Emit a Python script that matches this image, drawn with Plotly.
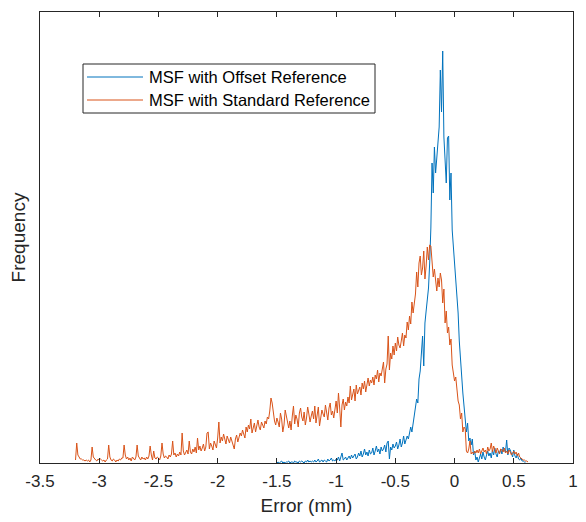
import numpy as np
import plotly.graph_objects as go

# ---- data (frequency in arbitrary counts, bins of 0.01 mm) ----
std_start = -3.20
std_counts = [
    3, 20, 8, 5, 4, 4, 3, 3, 2, 3,
    2, 3, 1, 3, 16, 6, 4, 3, 2, 4,
    3, 4, 3, 2, 3, 1, 3, 4, 18, 6,
    3, 2, 4, 3, 1, 3, 2, 4, 3, 5,
    5, 18, 8, 4, 6, 3, 5, 2, 6, 4,
    3, 6, 18, 7, 5, 3, 6, 4, 5, 3,
    6, 4, 7, 17, 8, 3, 12, 5, 4, 6,
    5, 3, 7, 20, 9, 5, 7, 6, 4, 8,
    6, 9, 22, 8, 10, 6, 9, 7, 11, 8,
    30, 12, 8, 10, 13, 9, 22, 11, 9, 14,
    11, 16, 10, 25, 13, 17, 12, 15, 19, 12,
    16, 30, 31, 14, 20, 17, 13, 22, 18, 15,
    25, 41, 20, 26, 22, 29, 24, 19, 27, 23,
    20, 26, 22, 17, 14, 24, 28, 21, 25, 30,
    27, 33, 29, 25, 36, 31, 38, 34, 44, 30,
    35, 40, 31, 37, 43, 36, 33, 41, 38, 35,
    42, 39, 46, 44, 52, 65, 60, 47, 42, 38,
    45, 41, 36, 50, 44, 31, 38, 53, 46, 40,
    35, 42, 33, 47, 57, 39, 48, 44, 36, 50,
    55, 46, 42, 51, 38, 45, 56, 49, 41, 47,
    52, 44, 57, 40, 48, 56, 37, 45, 53, 49,
    46, 58, 51, 43, 55, 60, 48, 52, 45, 57,
    62, 50, 70, 55, 36, 58, 64, 53, 61, 57,
    66, 60, 77, 63, 70, 74, 62, 78, 69, 73,
    76, 68, 80, 74, 82, 71, 79, 85, 77, 83,
    80, 86, 78, 88, 84, 93, 81, 90, 87, 95,
    101, 80, 94, 99, 127, 93, 110, 104, 117, 108,
    120, 112, 126, 118, 115, 122, 130, 117, 128, 125,
    141, 133, 147, 139, 161, 150, 158, 169, 191, 176,
    200, 207, 188, 195, 212, 184, 197, 216, 203, 218,
    217, 200, 186, 194, 180, 172, 185, 176, 190, 183,
    160, 174, 140, 152, 130, 136, 118, 124, 98, 88,
    82, 86, 74, 62, 58, 44, 50, 31, 36, 34,
    12, 10, 14, 22, 9, 11, 9, 12, 10, 13,
    10, 14, 9, 12, 15, 11, 13, 9, 16, 12,
    14, 20, 11, 17, 13, 10, 15, 12, 9, 14,
    13, 11, 15, 10, 12, 9, 13, 11, 8, 10,
    12, 9, 11, 7, 10, 6, 5, 4, 3, 3,
    2, 2, 1,
]

off_start = -1.50
off_counts = [
    0, 1, 0, 1, 2, 0, 1, 0, 1, 1,
    2, 0, 1, 1, 0, 2, 1, 1, 0, 2,
    1, 2, 1, 0, 2, 1, 3, 1, 2, 1,
    2, 1, 3, 1, 2, 4, 1, 2, 3, 1,
    3, 2, 1, 4, 2, 3, 5, 2, 3, 2,
    4, 3, 6, 2, 5, 10, 3, 4, 6, 3,
    5, 7, 4, 8, 5, 7, 9, 4, 6, 10,
    7, 12, 6, 9, 14, 8, 11, 7, 13, 9,
    10, 15, 8, 12, 17, 11, 14, 9, 16, 12,
    14, 18, 11, 20, 22, 4, 16, 13, 19, 15,
    17, 21, 14, 18, 24, 16, 20, 27, 19, 23,
    27, 24, 30, 36, 31, 40, 48, 57, 64, 60,
    84, 92, 110, 127, 97, 140, 152, 164, 175, 200,
    235, 300, 270, 316, 290, 305, 323, 336, 393, 351,
    412, 326, 303, 280, 325, 327, 263, 290, 233, 216,
    205, 190, 175, 150, 122, 101, 85, 70, 57, 45,
    31, 40, 22, 25, 18, 24, 8, 12, 3, 6,
    1, 5, 9, 4, 11, 6, 3, 8, 12, 7,
    10, 5, 13, 8, 15, 9, 6, 12, 10, 14,
    9, 16, 12, 11, 23, 8, 15, 13, 9, 6,
    13, 7, 5, 9, 4, 3, 5, 2, 2, 1,
    1,
]
bin_width = 0.01

series_names = ["MSF with Offset Reference", "MSF with Standard Reference"]
series_colors = ["#0072BD", "#D95319"]
tick_vals = [-3.5, -3, -2.5, -2, -1.5, -1, -0.5, 0, 0.5, 1]
tick_text = ["-3.5", "-3", "-2.5", "-2", "-1.5", "-1", "-0.5", "0", "0.5", "1"]

x_std = std_start + bin_width * np.arange(len(std_counts))
x_off = off_start + bin_width * np.arange(len(off_counts))

fig = go.Figure()
fig.add_trace(go.Scatter(x=x_off, y=off_counts, mode="lines", name=series_names[0],
                         line=dict(color=series_colors[0], width=1), showlegend=False))
fig.add_trace(go.Scatter(x=x_std, y=std_counts, mode="lines", name=series_names[1],
                         line=dict(color=series_colors[1], width=1), showlegend=False))

# page has an 8px body margin; size the figure to fill the rest of the window
PAGE_OFF = 8
W, H = 586 - PAGE_OFF, 522 - PAGE_OFF
L, R, T, B = 40 - PAGE_OFF, 13, 12 - PAGE_OFF, 59
pw, ph = W - L - R, H - T - B
axis_col = "#262626"

def px(xp):  # window pixel -> paper fraction
    return (xp - PAGE_OFF - L) / pw

def py(yp):
    return (H - B - (yp - PAGE_OFF)) / ph

# legend box drawn in paper coordinates
shapes = [dict(type="rect", xref="paper", yref="paper",
               x0=px(83), x1=px(375), y0=py(113), y1=py(64),
               line=dict(color=axis_col, width=1), fillcolor="white", layer="above")]
annotations = []
for i, (nm, col) in enumerate(zip(series_names, series_colors)):
    yl = 77 + 23 * i
    shapes.append(dict(type="line", xref="paper", yref="paper",
                       x0=px(87), x1=px(143), y0=py(yl), y1=py(yl),
                       line=dict(color=col, width=1), layer="above"))
    annotations.append(dict(text=nm, xref="paper", yref="paper", x=px(147), y=py(yl),
                            xanchor="left", yanchor="middle", showarrow=False,
                            font=dict(size=16.5, color="black")))

fig.update_layout(
    width=W, height=H,
    margin=dict(l=L, r=R, t=T, b=B),
    paper_bgcolor="white", plot_bgcolor="white",
    font=dict(family="Liberation Sans, Arial, sans-serif", color=axis_col),
    showlegend=False,
    shapes=shapes, annotations=annotations,
    xaxis=dict(range=[-3.5, 1], tickvals=tick_vals, ticktext=tick_text,
               ticks="inside", ticklen=5, tickcolor=axis_col, tickwidth=1,
               showline=True, linecolor=axis_col, linewidth=1, mirror="ticks",
               showgrid=False, zeroline=False, automargin=False,
               ticklabelstandoff=3,
               tickfont=dict(size=17, color=axis_col),
               title=dict(text="Error (mm)", font=dict(size=19, color=axis_col), standoff=8)),
    yaxis=dict(range=[0, 451], showticklabels=False, ticks="",
               showline=True, linecolor=axis_col, linewidth=1, mirror=True,
               showgrid=False, zeroline=False, automargin=False,
               title=dict(text="Frequency", font=dict(size=19, color=axis_col), standoff=9)),
)

fig.write_html("out.html")
